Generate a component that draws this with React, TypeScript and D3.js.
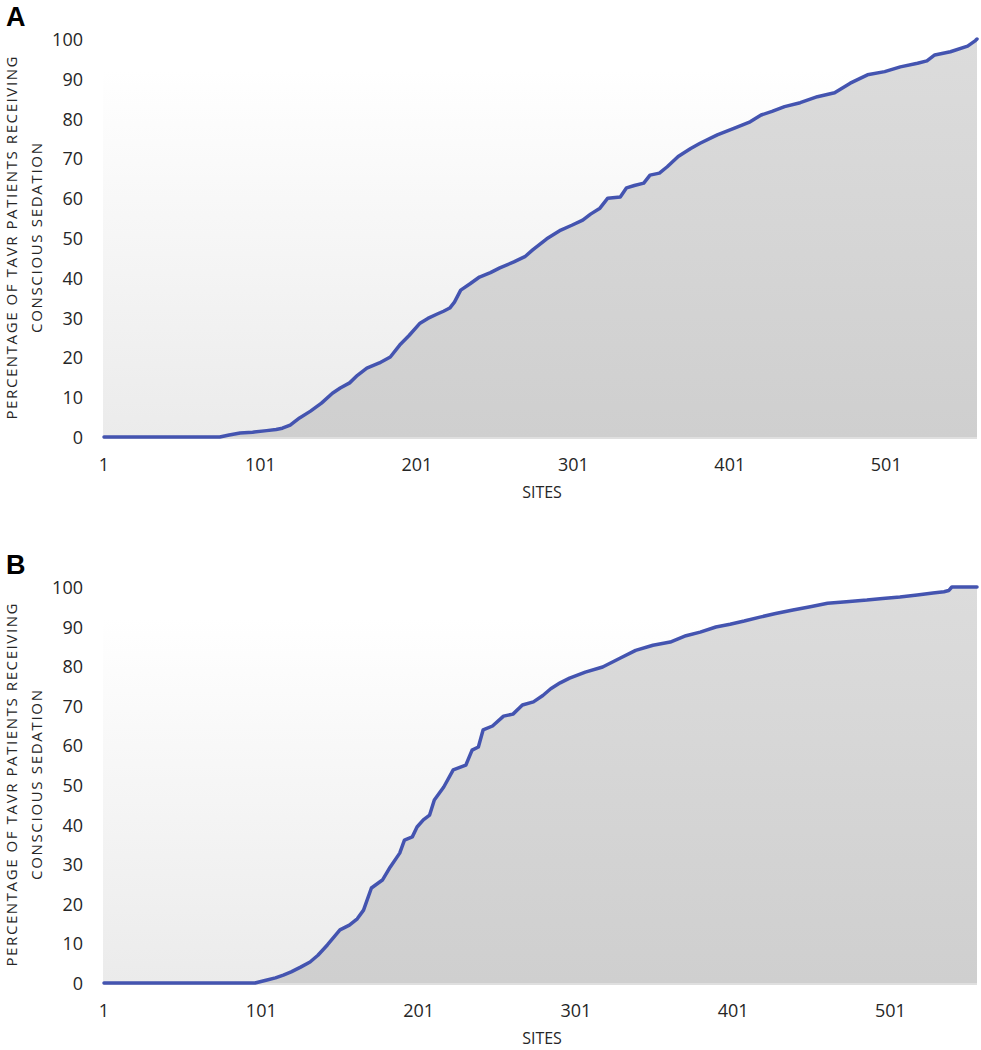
import * as d3 from "d3";

// panel A: cumulative % of TAVR patients receiving conscious sedation, by site
const sitesA = [1, 75, 81, 88, 96, 105, 111, 115, 120, 126, 133, 140, 147, 152, 158, 163, 169, 177, 184, 190, 196, 203, 208, 214, 218, 222, 225, 229, 235, 241, 248, 254, 263, 270, 275, 284, 293, 300, 307, 312, 318, 323, 331, 335, 340, 346, 350, 356, 361, 368, 376, 382, 393, 404, 414, 421, 428, 436, 446, 457, 468, 478, 489, 500, 510, 521, 527, 532, 542, 553, 558, 559];
const pctA = [0, 0, 0.5, 1.0, 1.2, 1.6, 1.9, 2.2, 3.0, 4.8, 6.5, 8.5, 11, 12.3, 13.6, 15.5, 17.3, 18.6, 20.1, 23.1, 25.5, 28.6, 29.8, 30.9, 31.6, 32.4, 33.9, 36.9, 38.5, 40.2, 41.3, 42.5, 44, 45.3, 47, 49.8, 52, 53.2, 54.5, 56, 57.5, 60, 60.3, 62.6, 63.2, 63.8, 65.8, 66.3, 67.9, 70.5, 72.5, 73.8, 75.9, 77.6, 79.2, 80.9, 81.8, 83.0, 84.0, 85.5, 86.5, 88.9, 91.0, 91.8, 93.0, 93.9, 94.5, 96.0, 96.8, 98.2, 99.6, 100];

// panel B
const sitesB = [1, 97, 104, 110, 115, 120, 126, 132, 137, 143, 151, 157, 162, 166, 171, 178, 183, 189, 192, 197, 200, 204, 208, 211, 217, 223, 231, 235, 239, 242, 248, 255, 261, 267, 274, 280, 285, 291, 297, 307, 318, 329, 339, 350, 361, 371, 380, 390, 399, 408, 418, 428, 439, 450, 461, 473, 486, 496, 507, 518, 528, 535, 538, 540, 556];
const pctB = [0, 0, 0.7, 1.3, 2.0, 2.8, 4.0, 5.3, 7.0, 9.6, 13.4, 14.6, 16.2, 18.4, 24, 26, 29.3, 32.8, 36.1, 36.9, 39.4, 41.2, 42.4, 46.2, 49.5, 53.8, 55, 58.8, 59.6, 63.9, 64.9, 67.4, 67.9, 70.2, 71.0, 72.6, 74.3, 75.8, 77, 78.5, 79.8, 82, 84, 85.3, 86.1, 87.7, 88.6, 89.9, 90.6, 91.4, 92.4, 93.3, 94.2, 95.0, 95.9, 96.3, 96.7, 97.1, 97.5, 98.0, 98.5, 98.8, 99.1, 100, 100];

const xTicks = [1, 101, 201, 301, 401, 501];
const yTicks = [0, 10, 20, 30, 40, 50, 60, 70, 80, 90, 100];
const yTitle1 = "PERCENTAGE OF TAVR PATIENTS RECEIVING";
const yTitle2 = "CONSCIOUS SEDATION";
const xTitle = "SITES";

const FONT = "'Open Sans', sans-serif";
const LINE = "#4454b0";

type PanelProps = {
  id: string;
  label: string;
  sites: number[];
  pct: number[];
  top: number;
  bottom: number;
};

const Panel = ({ id, label, sites, pct, top, bottom }: PanelProps) => {
  const left = 103;
  const right = 977;
  const n = sites[sites.length - 1];
  const x = d3.scaleLinear().domain([1, n]).range([104, right]);
  const y = d3.scaleLinear().domain([0, 100]).range([bottom, top]);
  const data = sites.map((s, i) => [s, pct[i]] as [number, number]);

  const area = d3
    .area<[number, number]>()
    .x((d) => x(d[0]))
    .y0(y(0))
    .y1((d) => y(d[1]));
  const line = d3
    .line<[number, number]>()
    .x((d) => x(d[0]))
    .y((d) => y(d[1]));

  const midY = (top + bottom) / 2;

  return (
    <g>
      <defs>
        <linearGradient id={`bg${id}`} gradientUnits="userSpaceOnUse" x1={0} x2={0} y1={y(105)} y2={y(0)}>
          <stop offset="0%" stopColor="#ffffff" />
          <stop offset="12%" stopColor="#ffffff" />
          <stop offset="100%" stopColor="#ebebeb" />
        </linearGradient>
        <linearGradient id={`ar${id}`} gradientUnits="userSpaceOnUse" x1={0} x2={0} y1={y(100)} y2={y(0)}>
          <stop offset="0%" stopColor="#dcdcdc" />
          <stop offset="100%" stopColor="#cfcfcf" />
        </linearGradient>
      </defs>
      <rect x={left} y={y(105)} width={right - left} height={y(0) - y(105)} fill={`url(#bg${id})`} />
      <path d={area(data) ?? ""} fill={`url(#ar${id})`} />
      <line x1={left} x2={right} y1={y(0) + 1} y2={y(0) + 1} stroke="#d4d4d4" strokeWidth={1.5} />
      <path d={line(data) ?? ""} fill="none" stroke={LINE} strokeWidth={3.5} strokeLinejoin="round" strokeLinecap="round" />

      {yTicks.map((t) => (
        <text key={t} x={83} y={y(t)} textAnchor="end" dominantBaseline="central" fontFamily={FONT} fontSize={18} fill="#262626">
          {t}
        </text>
      ))}
      {xTicks.map((t) => (
        <text key={t} x={x(t)} y={bottom + 27} textAnchor="middle" dominantBaseline="central" fontFamily={FONT} fontSize={18} fill="#262626">
          {t}
        </text>
      ))}
      <text x={542} y={bottom + 55} textAnchor="middle" dominantBaseline="central" fontFamily={FONT} fontSize={16} fill="#262626">
        {xTitle}
      </text>
      <text transform={`translate(17,${midY}) rotate(-90)`} textAnchor="middle" fontFamily={FONT} fontSize={15} fill="#262626" textLength={363}>
        {yTitle1}
      </text>
      <text transform={`translate(42,${midY}) rotate(-90)`} textAnchor="middle" fontFamily={FONT} fontSize={15} fill="#262626" textLength={190}>
        {yTitle2}
      </text>
      <text x={6} y={top - 13} fontFamily="'Liberation Sans', Arial, sans-serif" fontWeight="bold" fontSize={27} fill="#000">
        {label}
      </text>
    </g>
  );
};

export default function App() {
  return (
    <svg width={981} height={1050} style={{ position: "absolute", left: 0, top: 0, background: "#fff" }}>
      <rect width={981} height={1050} fill="#fff" />
      <Panel id="A" label="A" sites={sitesA} pct={pctA} top={39} bottom={437} />
      <Panel id="B" label="B" sites={sitesB} pct={pctB} top={587} bottom={983} />
    </svg>
  );
}
